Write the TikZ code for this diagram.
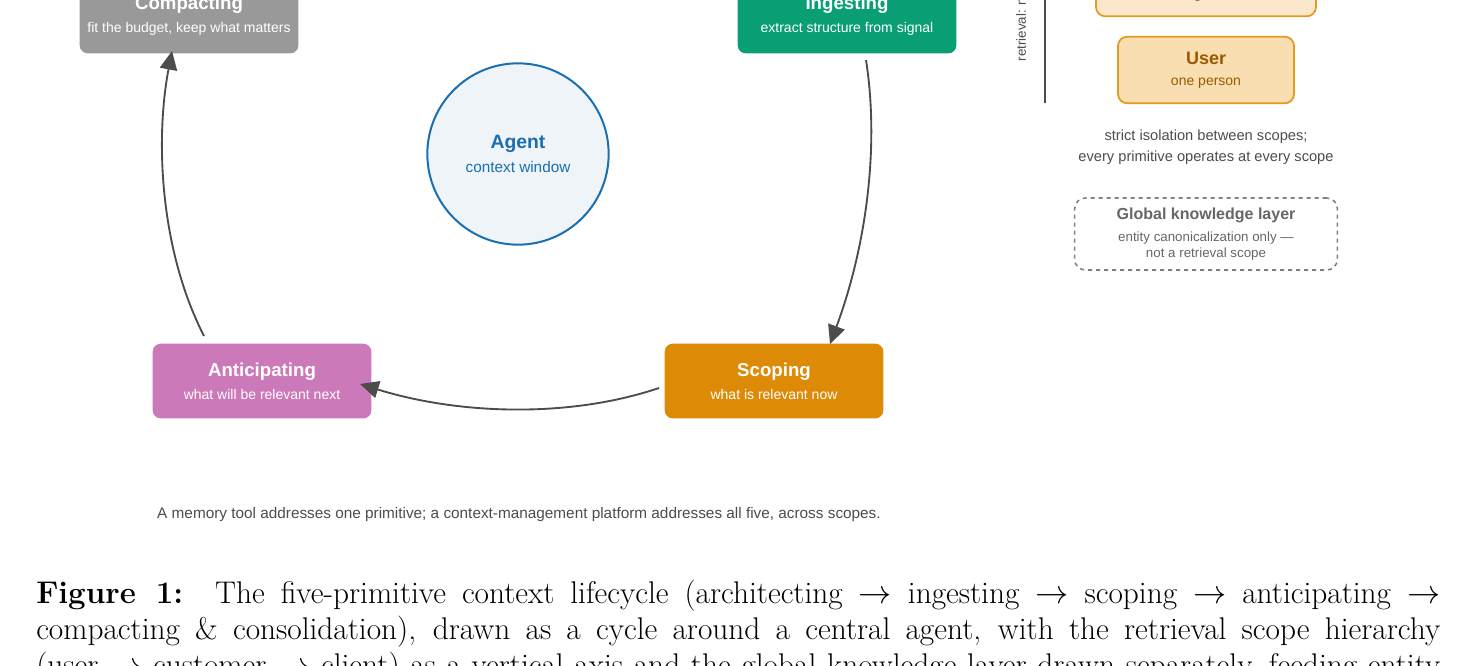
\documentclass[tikz,border=0pt]{standalone}
\usepackage{fontspec}
\newfontfamily\diagfont{Liberation Sans}
\usetikzlibrary{arrows.meta,positioning}
\definecolor{compgray}{HTML}{999999}
\definecolor{ingreen}{HTML}{0A9E74}
\definecolor{scorange}{HTML}{DD8A06}
\definecolor{antpink}{HTML}{CC79BA}
\definecolor{agentblue}{HTML}{1A6FB0}
\definecolor{agentfill}{HTML}{EFF4F8}
\definecolor{scopeline}{HTML}{E39A1E}
\definecolor{userfill}{HTML}{F8DEB0}
\definecolor{custfill}{HTML}{FBE8CC}
\definecolor{scopetext}{HTML}{9A5A00}
\begin{document}
\begin{tikzpicture}[x=0.75pt,y=-0.75pt,font=\diagfont]
\tikzset{prim/.style={rectangle, rounded corners=6pt, draw=none, text=white,
  minimum width=164pt, minimum height=56pt, align=center},
  flow/.style={draw=black!70, line width=1.4pt, -{Triangle[length=14pt,width=13pt]}},
  scope/.style={rectangle, rounded corners=7pt, draw=scopeline, line width=1.3pt,
  text=scopetext, align=center},
  note/.style={text=black!70, font=\diagfont\fontsize{11}{16}\selectfont, align=center}}
\useasboundingbox (0,0) rectangle (1476,665);
\clip (0,0) rectangle (1476,665);
% cycle
\node [prim, fill=compgray] (compact) at (189,16) {{\bfseries\fontsize{14}{16}\selectfont Compacting}\\[5pt]{\fontsize{10.5}{12}\selectfont fit the budget, keep what matters}};
\node [prim, fill=ingreen] (ingest) at (847,16) {{\bfseries\fontsize{14}{16}\selectfont Ingesting}\\[5pt]{\fontsize{10.5}{12}\selectfont extract structure from signal}};
\node [prim, fill=scorange] (scope) at (774,381) {{\bfseries\fontsize{14}{16}\selectfont Scoping}\\[5pt]{\fontsize{10.5}{12}\selectfont what is relevant now}};
\node [prim, fill=antpink] (antic) at (262,381) {{\bfseries\fontsize{14}{16}\selectfont Anticipating}\\[5pt]{\fontsize{10.5}{12}\selectfont what will be relevant next}};
\node [circle, draw=agentblue, line width=1.5pt, fill=agentfill, minimum size=136pt,
  text=agentblue, align=center] (agent) at (518,154)
  {{\bfseries\fontsize{14.5}{16}\selectfont Agent}\\[6pt]{\fontsize{11.5}{12}\selectfont context window}};
\draw [flow] (866,60) .. controls (880,150) and (865,250) .. (830,344);
\draw [flow] (659,388) .. controls (570,418) and (460,415) .. (360,384);
\draw [flow] (204,336) .. controls (160,250) and (155,140) .. (172,51);
% scope hierarchy
\draw [black!70, line width=1.4pt] (1045,-5) -- (1045,103);
\node [rotate=90, anchor=west, text=black!70, font=\diagfont\fontsize{10}{11}\selectfont] (axis) at (1021,66) {retrieval: narrow $\rightarrow$ broad};
\node [scope, fill=custfill, minimum width=165pt, minimum height=50pt] (cust) at (1206,-17)
  {{\bfseries\fontsize{13.5}{15}\selectfont Customer}\\[4pt]{\fontsize{10.5}{12}\selectfont one organization}};
\node [scope, fill=userfill, minimum width=132pt, minimum height=50pt] (user) at (1206,70)
  {{\bfseries\fontsize{13.5}{15}\selectfont User}\\[4pt]{\fontsize{10.5}{12}\selectfont one person}};
\node [note] (iso) at (1206,147) {strict isolation between scopes;\\every primitive operates at every scope};
\node [rectangle, rounded corners=8pt, draw=black!50, dashed, line width=1.2pt,
  minimum width=197pt, minimum height=54pt, text=black!60, align=center] (global) at (1206,234)
  {{\bfseries\fontsize{12}{14}\selectfont Global knowledge layer}\\[4pt]{\fontsize{10}{14}\selectfont entity canonicalization only \textemdash}\\{\fontsize{10}{11}\selectfont not a retrieval scope}};
\node [note, font=\diagfont\fontsize{11.5}{14}\selectfont] (foot) at (519,515) {A memory tool addresses one primitive; a context-management platform addresses all five, across scopes.};
% caption
\node [anchor=north west, text width=1053pt, align=justify, inner sep=0pt,
  font=\rmfamily\fontsize{23.5}{27}\selectfont] (cap) at (36,580)
  {\textbf{Figure 1:}\ \ The five-primitive context lifecycle (architecting $\rightarrow$ ingesting $\rightarrow$ scoping $\rightarrow$ anticipating $\rightarrow$\linebreak compacting \& consolidation), drawn as a cycle around a central agent, with the retrieval scope hierarchy\linebreak (user $\rightarrow$ customer $\rightarrow$ client) as a vertical axis and the global knowledge layer drawn separately, feeding entity\linebreak resolution.};
\end{tikzpicture}
\end{document}
